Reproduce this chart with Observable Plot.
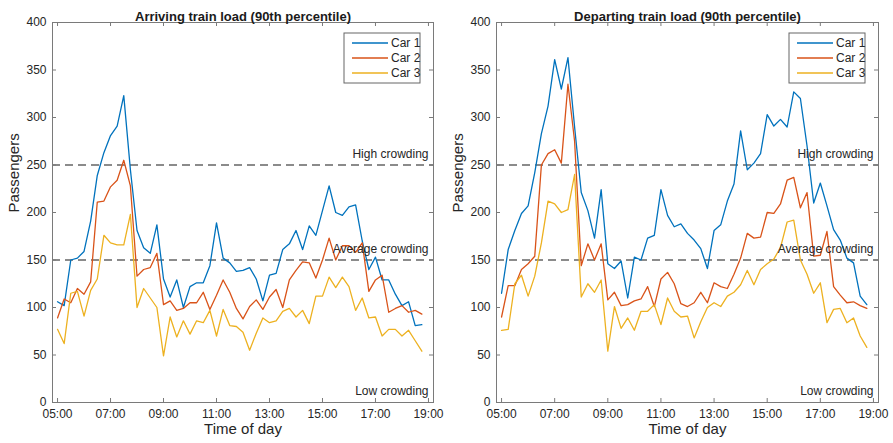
<!DOCTYPE html>
<html><head><meta charset="utf-8">
<script src="https://cdn.jsdelivr.net/npm/d3@7"></script>
<script src="https://cdn.jsdelivr.net/npm/@observablehq/plot@0.6"></script>
<style>
body{margin:0;background:#fff;}
#wrap{display:flex;width:893px;height:443px;overflow:hidden;}
svg{font-family:"Liberation Sans", Arial, Helvetica, sans-serif;}
</style></head><body><div id="wrap"></div>
<script>
const times = ["05:00","05:15","05:30","05:45","06:00","06:15","06:30","06:45","07:00","07:15",
"07:30","07:45","08:00","08:15","08:30","08:45","09:00","09:15","09:30","09:45",
"10:00","10:15","10:30","10:45","11:00","11:15","11:30","11:45","12:00","12:15",
"12:30","12:45","13:00","13:15","13:30","13:45","14:00","14:15","14:30","14:45",
"15:00","15:15","15:30","15:45","16:00","16:15","16:30","16:45","17:00","17:15",
"17:30","17:45","18:00","18:15","18:30","18:45"];

const arrivingCar1 = [106,102,150,152,159,191,239,263,281,291,
323,245,181,163,157,187,130,111,129,100,
122,126,126,144,189,152,147,138,139,142,
130,107,134,136,161,167,181,161,186,176,
202,228,200,197,206,208,170,140,153,129,
129,114,102,106,81,82];
const arrivingCar2 = [89,109,105,120,114,127,211,212,227,234,
255,228,133,140,142,157,103,107,97,99,
105,105,116,98,113,129,116,99,88,101,
108,98,111,119,100,129,139,148,147,131,
150,173,150,165,165,158,168,117,129,134,
95,99,102,95,97,93];
const arrivingCar3 = [77,62,115,117,91,118,130,176,168,166,
166,198,100,120,110,100,49,90,69,86,
72,86,84,97,70,98,81,80,74,55,
73,89,84,86,96,99,90,97,83,112,
112,132,121,132,122,97,110,89,90,70,
77,77,70,76,65,54];

const departingCar1 = [115,161,181,199,207,242,283,312,361,330,
363,290,221,202,173,224,146,141,149,110,
153,150,173,176,224,197,185,188,178,171,
162,141,181,187,212,230,286,245,252,262,
303,291,298,290,327,320,270,210,231,207,
182,171,152,147,112,103];
const departingCar2 = [90,123,123,140,146,154,250,262,266,252,
335,275,144,167,150,167,108,116,102,103,
107,109,122,101,130,137,125,104,101,105,
116,105,126,122,120,135,152,178,173,174,
200,199,209,234,237,205,221,154,155,180,
122,113,105,106,102,99];
const departingCar3 = [76,77,125,134,112,133,168,212,209,200,
203,240,111,125,116,129,54,101,78,89,
76,96,96,103,82,110,96,90,91,68,
85,100,105,101,112,116,124,139,124,140,
146,151,163,190,192,150,135,115,126,84,
98,99,84,89,70,58];

const carNames = ["Car 1","Car 2","Car 3"];
const carColors = ["#0072BD","#D95319","#EDB120"];
const thresholds = [250,150,0];
const thresholdLabels = ["High crowding","Average crowding","Low crowding"];
const xTicks = [5,7,9,11,13,15,17,19];
const yTicks = [0,50,100,150,200,250,300,350,400];
const titles = ["Arriving train load (90th percentile)","Departing train load (90th percentile)"];

const toHours = s => { const [h,m] = s.split(":").map(Number); return h + m/60; };
const fmt = d => String(d).padStart(2,"0") + ":00";
const FONT = '"Liberation Sans", Arial, Helvetica, sans-serif';

function panel(title, series, width, ml, mr) {
  const rows = [];
  series.forEach((vals, k) => vals.forEach((v, i) => rows.push({t: toHours(times[i]), v, car: carNames[k]})));
  const H = 443, mt = 22, mb = 41;
  const ph = H - mt - mb, pw = width - ml - mr, tk = 4;
  const fc = "#7a7a7a";
  const svg = Plot.plot({
    width, height: H, marginLeft: ml, marginRight: mr, marginTop: mt, marginBottom: mb,
    style: {fontFamily: FONT, fontSize: "12px", color: "#262626", background: "#fff", overflow: "visible"},
    x: {domain: [4.81, 19.19]},
    y: {domain: [0, 400]},
    color: {domain: carNames, range: carColors},
    marks: [
      Plot.ruleY([250, 150], {stroke: "#666", strokeDasharray: "8,5", strokeWidth: 1.4}),
      Plot.line(rows, {x: "t", y: "v", z: "car", stroke: "car", strokeWidth: 1.3}),
      Plot.frame({stroke: fc}),
      Plot.tickX(xTicks, {x: d => d, stroke: fc, insetTop: ph - tk}),
      Plot.tickX(xTicks, {x: d => d, stroke: fc, insetBottom: ph - tk}),
      Plot.tickY(yTicks, {y: d => d, stroke: fc, insetRight: pw - tk}),
      Plot.tickY(yTicks, {y: d => d, stroke: fc, insetLeft: pw - tk}),
      Plot.axisX({ticks: xTicks, tickSize: 0, tickPadding: 7, tickFormat: fmt, label: null, fontSize: 12, fill: "#262626"}),
      Plot.axisY({ticks: yTicks, tickSize: 0, tickPadding: 6, label: null, fontSize: 12, fill: "#262626"}),
      Plot.text(thresholdLabels, {y: (d, i) => thresholds[i], frameAnchor: "right", textAnchor: "end", dx: -5, dy: -11, text: d => d, fontSize: 12, fill: "#262626"}),
      Plot.text([title], {frameAnchor: "top", dy: -11, text: d => d, fontWeight: "bold", fontSize: 13, fill: "#1a1a1a"}),
      Plot.text(["Time of day"], {frameAnchor: "bottom", dy: 31, text: d => d, fontSize: 15, fill: "#262626"}),
      Plot.text(["Passengers"], {frameAnchor: "left", rotate: -90, dx: -38, text: d => d, fontSize: 15, fill: "#262626"})
    ]
  });
  // legend box
  const lw = 76, lh = 50;
  const g = d3.select(svg).append("g")
    .attr("transform", `translate(${width - mr - 13 - lw},${mt + 11})`)
    .attr("text-anchor", "start");
  g.append("rect").attr("width", lw).attr("height", lh).attr("fill", "#fff").attr("stroke", "#666").attr("stroke-width", 1);
  carNames.forEach((n, i) => {
    g.append("line").attr("x1", 8).attr("x2", 44).attr("y1", 10 + 15 * i).attr("y2", 10 + 15 * i)
      .attr("stroke", carColors[i]).attr("stroke-width", 1.5);
    g.append("text").attr("x", 47).attr("y", 10 + 15 * i).attr("dy", "0.35em")
      .attr("text-anchor", "start")
      .attr("font-size", 12).attr("fill", "#262626").attr("font-family", FONT).text(n);
  });
  return svg;
}

const wrap = document.getElementById("wrap");
wrap.appendChild(panel(titles[0], [arrivingCar1, arrivingCar2, arrivingCar3], 446, 52, 13));
wrap.appendChild(panel(titles[1], [departingCar1, departingCar2, departingCar3], 447, 50, 15));
</script></body></html>
